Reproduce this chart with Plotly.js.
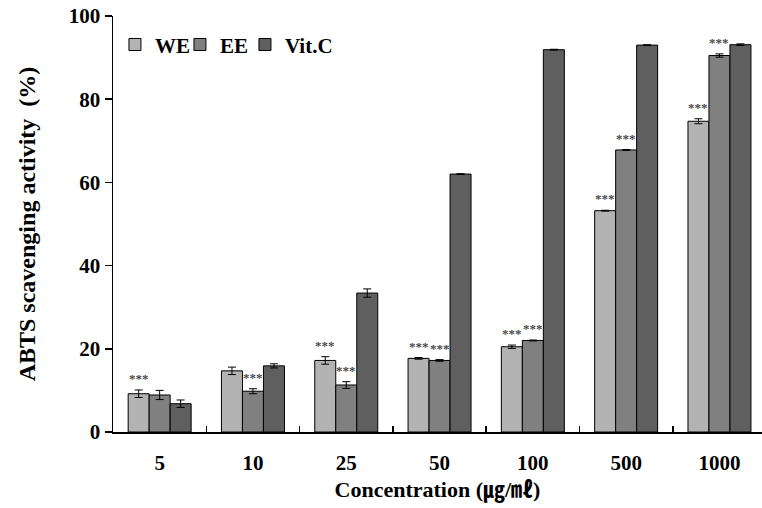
<!DOCTYPE html>
<html>
<head>
<meta charset="utf-8">
<script src="https://cdn.plot.ly/plotly-3.0.1.min.js"></script>
<style>html,body{margin:0;padding:0;background:#fff;}#chart{width:762px;height:508px;}</style>
</head>
<body>
<div id="chart"></div>
<script>
const categories = ['5', '10', '25', '50', '100', '500', '1000'];
const weValues  = [9.2, 14.7, 17.2, 17.7, 20.5, 53.2, 74.7];
const weErr     = [0.9, 0.9, 0.9, 0.2, 0.4, 0.1, 0.6];
const eeValues  = [8.9, 9.8, 11.3, 17.2, 22.0, 67.8, 90.5];
const eeErr     = [1.1, 0.6, 0.8, 0.2, 0.1, 0.1, 0.4];
const vitValues = [6.8, 15.9, 33.4, 62.0, 91.9, 93.0, 93.1];
const vitErr    = [0.9, 0.5, 1.0, 0.1, 0.1, 0.1, 0.2];
const weSig  = ['***', '', '***', '***', '***', '***', '***'];
const eeSig  = ['', '***', '***', '***', '***', '***', '***'];
const vitSig = ['', '', '', '', '', '', ''];

const serif = '"Liberation Serif", "Times New Roman", serif';

function barTrace(name, vals, errs, color) {
  return {
    type: 'bar', name: name, x: categories, y: vals,
    marker: {color: color, line: {color: '#000', width: 1}},
    error_y: {type: 'data', array: errs, visible: true, color: '#000', thickness: 1, width: 4}
  };
}

const data = [
  barTrace('WE', weValues, weErr, '#b3b3b3'),
  barTrace('EE', eeValues, eeErr, '#808080'),
  barTrace('Vit.C', vitValues, vitErr, '#5f5f5f')
];

const annotations = [];
[[weSig, weValues, weErr, -21], [eeSig, eeValues, eeErr, 0], [vitSig, vitValues, vitErr, 21]].forEach(([sig, vals, errs, shift]) => {
  sig.forEach((s, i) => {
    if (!s) return;
    annotations.push({
      x: i, y: vals[i] + errs[i], xref: 'x', yref: 'y',
      text: s, showarrow: false, xshift: shift, yshift: 2, yanchor: 'bottom',
      font: {family: serif, size: 13, color: '#4a4a4a', weight: 'bold'}
    });
  });
});

const layout = {
  width: 762, height: 508,
  margin: {l: 113, r: 0, t: 16, b: 76},
  paper_bgcolor: '#fff', plot_bgcolor: '#fff',
  barmode: 'group', bargap: 0.325, bargroupgap: 0,
  showlegend: true,
  legend: {orientation: 'h', x: 0.003, y: 0.98, xanchor: 'left', yanchor: 'top',
    font: {family: serif, size: 21, color: '#000', weight: 'bold'},
    bgcolor: 'rgba(0,0,0,0)', itemwidth: 30, tracegroupgap: 0,
    entrywidth: 20, entrywidthmode: 'pixels'},
  xaxis: {
    type: 'category', range: [-0.5, 6.456],
    showline: true, linecolor: '#000', linewidth: 1.5,
    ticks: 'inside', tickson: 'boundaries', ticklen: 6, tickcolor: '#000', tickwidth: 1.5,
    showgrid: false, zeroline: false,
    tickfont: {family: serif, size: 21, color: '#000', weight: 'bold'},
    ticklabelstandoff: 11,
    title: {text: 'Concentration (㎍/㎖)', standoff: 8,
      font: {family: serif + ', "Noto Sans CJK KR"', size: 22, color: '#000', weight: 'bold'}}
  },
  yaxis: {
    range: [0, 100], tickvals: [0, 20, 40, 60, 80, 100],
    showline: true, linecolor: '#000', linewidth: 1.5,
    ticks: 'outside', ticklen: 7, tickcolor: '#000', tickwidth: 1.5,
    showgrid: false, zeroline: false,
    tickfont: {family: serif, size: 21, color: '#000', weight: 'bold'},
    title: {text: 'ABTS scavenging activity  (%)', standoff: 26,
      font: {family: serif, size: 24, color: '#000', weight: 'bold'}}
  },
  annotations: annotations
};

Plotly.newPlot('chart', data, layout, {displayModeBar: false, staticPlot: true}).then(gd => {
  // let the last legend label ("Vit.C") show in full despite the narrow entry width
  gd.querySelectorAll('.legend [clip-path]').forEach(el => el.removeAttribute('clip-path'));
});
</script>
</body>
</html>
